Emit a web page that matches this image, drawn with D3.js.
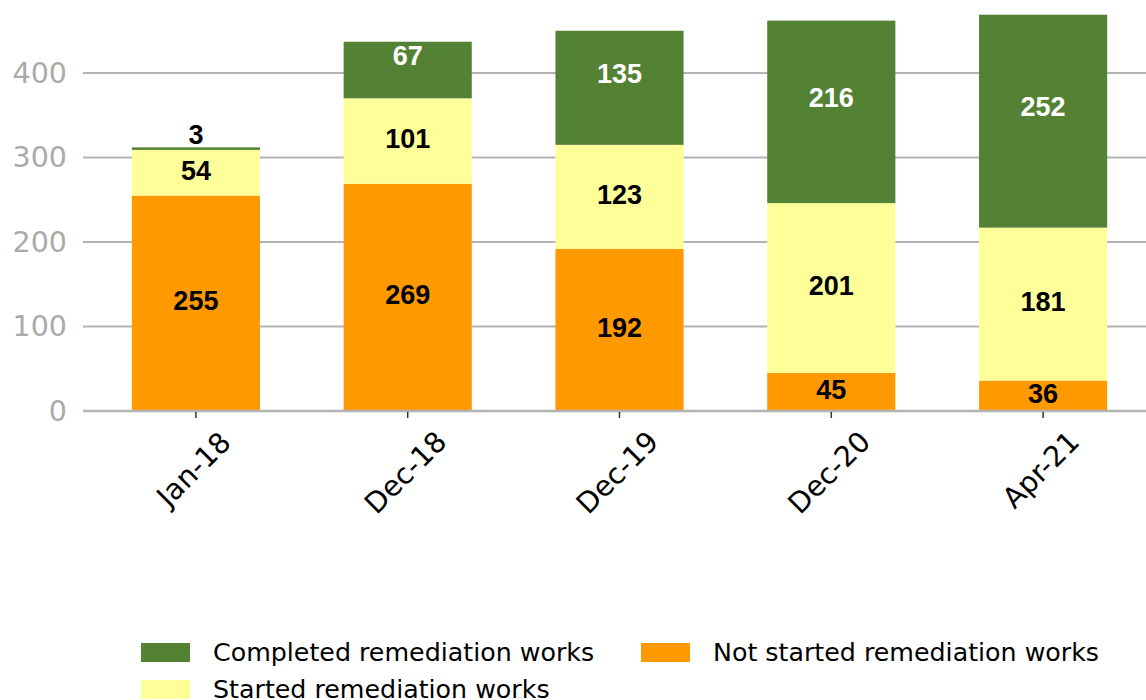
<!DOCTYPE html>
<html>
<head>
<meta charset="utf-8">
<script src="https://cdn.jsdelivr.net/npm/d3@7"></script>
<style>
  body { margin: 0; background: #fff; }
  svg { display: block; }
</style>
</head>
<body>
<div id="chart"></div>
<script>
// chart data
const periods = ["Jan-18", "Dec-18", "Dec-19", "Dec-20", "Apr-21"];
const notStarted = [255, 269, 192, 45, 36];
const started = [54, 101, 123, 201, 181];
const completed = [3, 67, 135, 216, 252];
const yTicks = [0, 100, 200, 300, 400];

const seriesNames = ["Not started remediation works", "Started remediation works", "Completed remediation works"];
const seriesColors = ["#ff9900", "#ffff99", "#548235"];
const legendOrder = [2, 1, 0]; // completed, started, not started (column-major, 2 cols)

const width = 1146;
const height = 700;

const svg = d3.select("#chart")
  .append("svg")
  .attr("width", width)
  .attr("height", height);

// stack the three series
const rows = periods.map((p, i) => ({period: p, s0: notStarted[i], s1: started[i], s2: completed[i]}));
const stack = d3.stack().keys(["s0", "s1", "s2"]);
const layers = stack(rows);

// scales
const x = d3.scaleBand()
  .domain(periods)
  .range([90, 1149])
  .paddingInner(0.395)
  .paddingOuter(0.1975);

const y = d3.scaleLinear()
  .domain([0, 400])
  .range([411, 73]);

// gridlines
svg.append("g")
  .selectAll("line")
  .data(yTicks)
  .join("line")
    .attr("x1", 83)
    .attr("x2", width)
    .attr("y1", d => y(d))
    .attr("y2", d => y(d))
    .attr("stroke", "#b3b3b3")
    .attr("stroke-width", 2);

// y tick labels
svg.append("g")
  .selectAll("text")
  .data(yTicks)
  .join("text")
    .attr("x", 67)
    .attr("y", d => y(d))
    .attr("text-anchor", "end")
    .attr("dominant-baseline", "central")
    .attr("font-family", "DejaVu Sans")
    .attr("font-size", 28.5)
    .attr("fill", "#aaaaaa")
    .text(d => d);

// bars
const layerG = svg.append("g")
  .selectAll("g")
  .data(layers)
  .join("g")
    .attr("fill", (d, i) => seriesColors[i]);

layerG.selectAll("rect")
  .data(d => d)
  .join("rect")
    .attr("x", d => x(d.data.period))
    .attr("width", x.bandwidth())
    .attr("y", d => y(d[1]))
    .attr("height", d => y(d[0]) - y(d[1]));

// baseline over the bars
svg.append("line")
  .attr("x1", 83)
  .attr("x2", width)
  .attr("y1", y(0))
  .attr("y2", y(0))
  .attr("stroke", "#b3b3b3")
  .attr("stroke-width", 2.5);

// value labels
const labelColors = ["#000", "#000", "#fff"];
const labelShift = [-2, -2, -14];
layers.forEach((layer, li) => {
  svg.append("g")
    .selectAll("text")
    .data(layer)
    .join("text")
      .attr("x", d => x(d.data.period) + x.bandwidth() / 2)
      .attr("y", d => (y(d[0]) + y(d[1])) / 2 + labelShift[li])
      .attr("text-anchor", "middle")
      .attr("dominant-baseline", "central")
      .attr("font-family", "Liberation Sans, Arial, sans-serif")
      .attr("font-weight", "bold")
      .attr("font-size", 27)
      .attr("fill", d => (d[1] - d[0] < 10) ? "#000" : labelColors[li])
      .text(d => d[1] - d[0]);
});

// x ticks
svg.append("g")
  .selectAll("line")
  .data(periods)
  .join("line")
    .attr("x1", d => x(d) + x.bandwidth() / 2)
    .attr("x2", d => x(d) + x.bandwidth() / 2)
    .attr("y1", 412)
    .attr("y2", 418)
    .attr("stroke", "#333")
    .attr("stroke-width", 1.5);

// x labels, rotated, box centered under tick
const xl = svg.append("g")
  .selectAll("text")
  .data(periods)
  .join("text")
    .attr("text-anchor", "middle")
    .attr("dominant-baseline", "central")
    .attr("font-family", "DejaVu Sans")
    .attr("font-size", 28.5)
    .attr("fill", "#000")
    .text(d => d);

xl.each(function(d) {
  const bb = this.getBBox();
  const half = (bb.width + 0.75 * bb.height) * Math.SQRT1_2 / 2;
  const cx = x(d) + x.bandwidth() / 2 - 2;
  const cy = 428 + half;
  d3.select(this).attr("transform", `translate(${cx},${cy}) rotate(-45)`);
});

// legend
const legendCols = [141, 641];
const legendRows = [652, 689];
const legend = svg.append("g")
  .selectAll("g")
  .data(legendOrder)
  .join("g")
    .attr("transform", (d, i) => `translate(${legendCols[Math.floor(i / 2)]},${legendRows[i % 2]})`);

legend.append("rect")
  .attr("x", 0)
  .attr("y", -9)
  .attr("width", 49)
  .attr("height", 19)
  .attr("fill", d => seriesColors[d]);

legend.append("text")
  .attr("x", 72)
  .attr("y", 0)
  .attr("dominant-baseline", "central")
  .attr("font-family", "DejaVu Sans")
  .attr("font-size", 25.3)
  .attr("fill", "#000")
  .text(d => seriesNames[d]);
</script>
</body>
</html>
